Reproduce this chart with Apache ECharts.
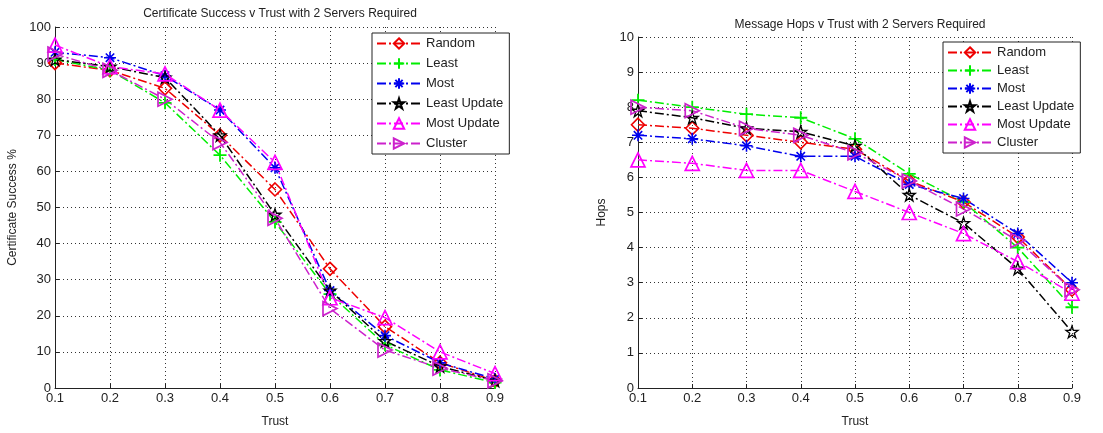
<!DOCTYPE html>
<html>
<head>
	<meta charset="utf-8">
	<title>Certificate Success / Message Hops v Trust</title>
	<script src="https://cdn.jsdelivr.net/npm/echarts@6/dist/echarts.min.js"></script>
	<style>
		html, body { margin: 0; padding: 0; background: #fff; }
		#main { width: 1103px; height: 433px; }
	</style>
</head>
<body>
<div id="main"></div>
<script>
	// trust values on the x axis
	var trust = [0.1, 0.2, 0.3, 0.4, 0.5, 0.6, 0.7, 0.8, 0.9];
	var seriesNames = ['Random', 'Least', 'Most', 'Least Update', 'Most Update', 'Cluster'];

	// certificate success %, left chart
	var successRandom      = [90, 88, 83, 70, 55, 33, 17, 7, 2];
	var successLeast       = [91, 88, 79, 64.5, 46, 26, 12, 5, 1.5];
	var successMost        = [93, 91.5, 86.5, 77, 61, 27, 14.5, 7, 2.5];
	var successLeastUpdate = [91, 89, 86, 70, 48, 27, 13, 6, 2];
	var successMostUpdate  = [95, 89, 87, 77, 62.5, 25, 19.5, 10, 4];
	var successCluster     = [92.5, 88, 80, 68, 47, 22, 10.5, 5.5, 2];

	// message hops, right chart
	var hopsRandom      = [7.5, 7.4, 7.2, 7.0, 6.8, 5.9, 5.3, 4.3, 2.8];
	var hopsLeast       = [8.2, 8.0, 7.8, 7.7, 7.1, 6.1, 5.3, 4.0, 2.3];
	var hopsMost        = [7.2, 7.1, 6.9, 6.6, 6.6, 5.8, 5.4, 4.4, 3.0];
	var hopsLeastUpdate = [7.9, 7.7, 7.4, 7.3, 6.9, 5.5, 4.7, 3.4, 1.6];
	var hopsMostUpdate  = [6.5, 6.4, 6.2, 6.2, 5.6, 5.0, 4.4, 3.6, 2.7];
	var hopsCluster     = [8.0, 7.9, 7.4, 7.2, 6.7, 5.9, 5.1, 4.2, 2.8];

	var successData = [successRandom, successLeast, successMost, successLeastUpdate, successMostUpdate, successCluster];
	var hopsData = [hopsRandom, hopsLeast, hopsMost, hopsLeastUpdate, hopsMostUpdate, hopsCluster];

	var colors = ['#ee0000', '#00ee00', '#0000ee', '#000000', '#ff00ff', '#cc22cc'];
	var symbols = [
		'diamond',
		'path://M5,0 L5,10 M0,5 L10,5',
		'path://M5,0 L5,10 M0,5 L10,5 M1.5,1.5 L8.5,8.5 M8.5,1.5 L1.5,8.5',
		'path://M5,0 L6.2,3.6 L10,3.6 L6.9,5.9 L8.1,9.5 L5,7.3 L1.9,9.5 L3.1,5.9 L0,3.6 L3.8,3.6 Z',
		'path://M5,0 L10,9 L0,9 Z',
		'path://M0,0 L9,5 L0,10 Z'
	];
	var sizes = [13, 13, 12, 12, 14, 14];
	var borders = [1.6, 1.8, 1.6, 1.3, 1.7, 1.7];
	var dashDot = [9, 3, 2, 3];
	var font = 'Liberation Sans, Arial, sans-serif';

	function makeSeries(data, idx) {
		return data.map(function (vals, i) {
			return {
				name: seriesNames[i],
				type: 'line',
				xAxisIndex: idx,
				yAxisIndex: idx,
				data: trust.map(function (t, k) { return [t, vals[k]]; }),
				symbol: symbols[i],
				symbolSize: sizes[i],
				lineStyle: { color: colors[i], width: 1.5, type: dashDot },
				itemStyle: { color: 'rgba(255,255,255,0)', borderColor: colors[i], borderWidth: borders[i] },
				emphasis: { disabled: true },
				animation: false
			};
		});
	}

	function xAxis(idx) {
		return {
			type: 'value', gridIndex: idx, min: 0.1, max: 0.9, interval: 0.1,
			name: 'Trust', nameLocation: 'middle', nameGap: 28,
			nameTextStyle: { fontFamily: font, fontSize: 12, color: '#222' },
			axisLine: { lineStyle: { color: '#222', width: 1 } },
			axisTick: { inside: true, length: 4, lineStyle: { color: '#222' } },
			axisLabel: { fontFamily: font, fontSize: 13, color: '#222', margin: 4,
				formatter: function (v) { return v.toFixed(1); } },
			splitLine: { show: true, lineStyle: { color: '#333', type: [1, 3] } }
		};
	}

	function yAxis(idx, max, step, name, gap) {
		return {
			type: 'value', gridIndex: idx, min: 0, max: max, interval: step,
			name: name, nameLocation: 'middle', nameGap: gap,
			nameTextStyle: { fontFamily: font, fontSize: 12, color: '#222' },
			axisLine: { show: true, lineStyle: { color: '#222', width: 1 } },
			axisTick: { show: true, inside: true, length: 4, lineStyle: { color: '#222' } },
			axisLabel: { fontFamily: font, fontSize: 13, color: '#222', margin: 4 },
			splitLine: { show: true, lineStyle: { color: '#333', type: [1, 3] } }
		};
	}

	function legend(left, top, gap) {
		return {
			left: left, top: top, orient: 'vertical',
			data: seriesNames,
			itemWidth: 44, itemHeight: 13, itemGap: gap,
			padding: [4, 6, 4, 4],
			borderColor: '#222', borderWidth: 1, backgroundColor: '#fff',
			textStyle: { fontFamily: font, fontSize: 13, color: '#222' },
			selectedMode: false
		};
	}

	var myChart = echarts.init(document.getElementById('main'));
	var option = {
		backgroundColor: '#fff',
		animation: false,
		title: [
			{ text: 'Certificate Success v Trust with 2 Servers Required', left: 275, top: 3, textAlign: 'center',
				textStyle: { fontFamily: font, fontSize: 12, fontWeight: 'normal', color: '#222' } },
			{ text: 'Message Hops v Trust with 2 Servers Required', left: 855, top: 14, textAlign: 'center',
				textStyle: { fontFamily: font, fontSize: 12, fontWeight: 'normal', color: '#222' } }
		],
		legend: [legend(372, 33, 7), legend(943, 42, 5)],
		grid: [
			{ left: 55, right: 608, top: 27, bottom: 41 },
			{ left: 638, right: 31, top: 37, bottom: 41 }
		],
		xAxis: [xAxis(0), xAxis(1)],
		yAxis: [yAxis(0, 100, 10, 'Certificate Success %', 36), yAxis(1, 10, 1, 'Hops', 30)],
		series: makeSeries(successData, 0).concat(makeSeries(hopsData, 1))
	};

	option && myChart.setOption(option);
</script>
</body>
</html>
